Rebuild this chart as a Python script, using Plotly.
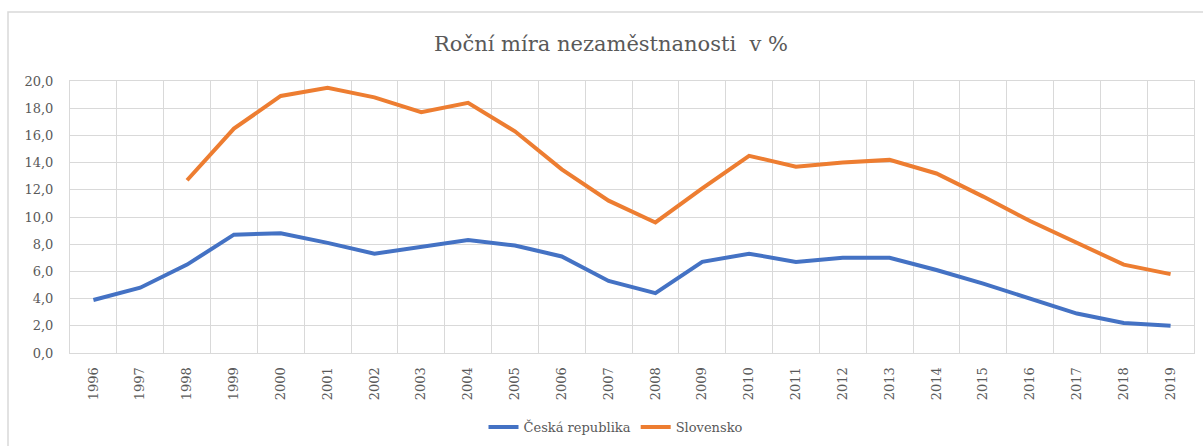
import plotly.graph_objects as go

years = list(range(1996, 2020))
cz = [3.9, 4.8, 6.5, 8.7, 8.8, 8.1, 7.3, 7.8, 8.3, 7.9, 7.1, 5.3, 4.4, 6.7, 7.3, 6.7, 7.0, 7.0, 6.1, 5.1, 4.0, 2.9, 2.2, 2.0]
sk_years = list(range(1998, 2020))
sk = [12.7, 16.5, 18.9, 19.5, 18.8, 17.7, 18.4, 16.3, 13.5, 11.2, 9.6, 12.1, 14.5, 13.7, 14.0, 14.2, 13.2, 11.5, 9.7, 8.1, 6.5, 5.8]
tick_labels = [str(y) for y in years]
y_ticks = [0, 2, 4, 6, 8, 10, 12, 14, 16, 18, 20]

FONT = "DejaVu Serif"
GRID = "#d9d9d9"
TXT = "#595959"

fig = go.Figure()
fig.add_trace(go.Scatter(x=years, y=cz, mode="lines", name="Česká republika",
                         line=dict(color="#4472C4", width=4)))
fig.add_trace(go.Scatter(x=sk_years, y=sk, mode="lines", name="Slovensko",
                         line=dict(color="#ED7D31", width=4)))

W, H = 1203, 446
L, R, T, B = 70, 9, 81, 93
pw = W - L - R
ph = H - T - B

fig.update_layout(
    width=W, height=H,
    margin=dict(l=L, r=R, t=T, b=B, autoexpand=False),
    paper_bgcolor="white", plot_bgcolor="white",
    separators=", ",
    font=dict(family=FONT, color=TXT, size=13),
    title=dict(text="Roční míra nezaměstnanosti  v %", x=611 / W, xanchor="center",
               y=1 - 44 / H, yanchor="middle", font=dict(family=FONT, size=21, color=TXT)),
    showlegend=True,
    legend=dict(orientation="h", xref="container", x=616 / W, xanchor="center",
                yref="container", y=(H - 427) / H, yanchor="middle",
                font=dict(family=FONT, size=13, color=TXT),
                tracegroupgap=0),
    xaxis=dict(range=[1995.5, 2019.5], tickmode="array", tickvals=years, ticktext=tick_labels,
               tickangle=-90, showgrid=False, zeroline=False, ticks="", ticklen=0,
               automargin=False, ticklabelstandoff=8,
               showline=True, mirror=True, linecolor=GRID, linewidth=1,
               tickfont=dict(family=FONT, size=13, color=TXT),
               minor=dict(tick0=1995.5, dtick=1, showgrid=True, gridcolor=GRID, gridwidth=1, ticks="")),
    yaxis=dict(range=[0, 20], tickmode="array", tickvals=y_ticks, tickformat=".1f",
               showgrid=True, gridcolor=GRID, gridwidth=1, zeroline=False,
               showline=True, mirror=True, linecolor=GRID, linewidth=1,
               ticks="", ticklabelstandoff=13, automargin=False,
               tickfont=dict(family=FONT, size=13, color=TXT)),
    shapes=[dict(type="rect", xref="paper", yref="paper",
                 x0=(8 - L) / pw, x1=1.2, y0=-0.6, y1=(H - B - 12) / ph,
                 line=dict(color=GRID, width=1.5), fillcolor="rgba(0,0,0,0)", layer="below")],
)

fig.write_html("out.html", config={"displayModeBar": False},
               post_script="document.body.style.margin='0';")
